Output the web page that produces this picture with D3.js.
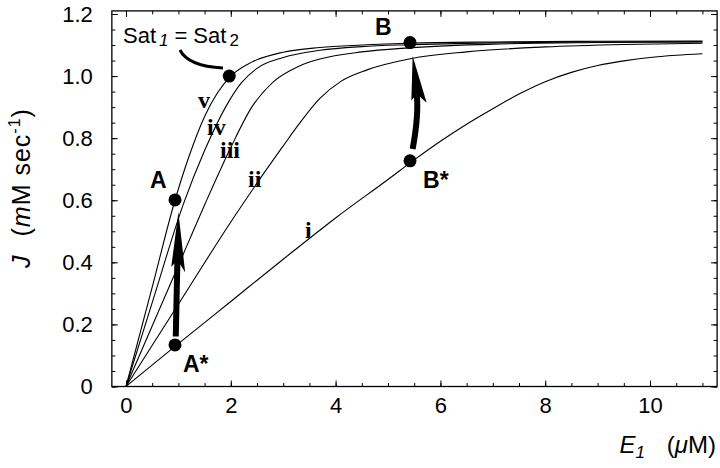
<!DOCTYPE html>
<html><head><meta charset="utf-8">
<script src="https://cdn.jsdelivr.net/npm/d3@7"></script>
<style>body{margin:0;background:#fff} svg{display:block}</style>
</head><body><svg id="c" width="720" height="468"></svg>
<script>
// ---- data (E1 in µM, J in mM/sec) ----
const curveI   = [[0,0],[1,0.138],[2,0.274],[3,0.41],[4,0.543],[5,0.667],[5.5,0.73],[6,0.79],[6.5,0.845],[7,0.895],[7.5,0.942],[8,0.982],[8.5,1.012],[9,1.034],[9.5,1.049],[10,1.06],[10.5,1.067],[11,1.072]];
const curveII  = [[0,0],[1,0.265],[2,0.53],[2.5,0.655],[3,0.775],[3.3,0.845],[3.7,0.928],[4.1,0.983],[4.6,1.02],[5.4,1.055],[6.5,1.078],[8,1.094],[9.5,1.102],[11,1.106]];
const curveIII = [[0,0],[1,0.39],[1.5,0.585],[2,0.77],[2.4,0.9],[2.8,0.98],[3.3,1.032],[3.7,1.055],[4.5,1.078],[5.4,1.091],[7,1.103],[9,1.108],[11,1.11]];
const curveIV  = [[0,0],[0.5,0.27],[1.1,0.59],[1.5,0.76],[1.9,0.9],[2.2,0.978],[2.5,1.025],[3,1.06],[3.7,1.083],[4.5,1.095],[5.4,1.101],[7,1.107],[9,1.11],[11,1.111]];
const curveV   = [[0,0],[0.5,0.32],[0.935,0.6],[1.2,0.74],[1.5,0.87],[1.75,0.947],[2,1.0],[2.4,1.045],[3,1.077],[3.7,1.092],[4.5,1.1],[5.4,1.106],[7,1.11],[9,1.112],[11,1.113]];
const curves = [curveI, curveII, curveIII, curveIV, curveV];
const curveNames = ["i","ii","iii","iv","v"];
const curveLabelAt = [[3.416,0.478],[2.328,0.642],[1.794,0.736],[1.546,0.810],[1.374,0.897]];

const pointNames = ["A","A*","B","B*","Sat"];
const pointValues = [[0.935,0.601],[0.935,0.134],[5.42,1.108],[5.42,0.727],[1.97,1.0]];
const pointLabelAt = [[0.458,0.640],[1.088,0.047],[4.752,1.132],[5.668,0.640]];

const arrowA = {start:[0.95,0.161], ctrl:[0.975,0.36], tip:[1.0,0.562]};
const arrowB = {start:[5.47,0.765], ctrl:[5.59,0.875], tip:[5.47,1.065]};
const leader = {start:[1.03,1.084], ctrl:[1.183,1.032], end:[1.85,1.026]};
const satLabelAt = [-0.057,1.107];

const xTicks = [0,2,4,6,8,10];
const yTicks = [0,0.2,0.4,0.6,0.8,1.0,1.2];

// ---- drawing ----
const svg = d3.select("#c");
const x = d3.scaleLinear().domain([-0.27,11.28]).range([111.85,717.1]);
const y = d3.scaleLinear().domain([0,1.21]).range([386.5,10.9]);
const L = 111.85, R = 717.1, T = 10.9, B = 386.5;

const xMinor = d3.range(0,11.01,0.5);
const yMinor = d3.range(0,1.201,0.05);

function tickGroup(axis, tr){
  const g = svg.append("g").attr("transform",tr).call(axis);
  g.select(".domain").remove();
  g.selectAll("line").attr("stroke","#000").attr("stroke-width",1);
  g.selectAll("text").attr("font-family","Liberation Sans, Arial, sans-serif").attr("font-size",22).attr("fill","#000");
  return g;
}
// minor ticks (inside)
tickGroup(d3.axisBottom(x).tickValues(xMinor).tickSize(-3.5).tickFormat(""), `translate(0,${B})`);
tickGroup(d3.axisTop(x).tickValues(xMinor).tickSize(-3.5).tickFormat(""), `translate(0,${T})`);
tickGroup(d3.axisLeft(y).tickValues(yMinor).tickSize(-3.5).tickFormat(""), `translate(${L},0)`);
tickGroup(d3.axisRight(y).tickValues(yMinor).tickSize(-3.5).tickFormat(""), `translate(${R},0)`);
// major ticks with labels
tickGroup(d3.axisBottom(x).tickValues(xTicks).tickSize(-6).tickPadding(11).tickFormat(d3.format("d")), `translate(0,${B})`);
tickGroup(d3.axisLeft(y).tickValues(yTicks).tickSize(-6).tickPadding(19).tickFormat(d=> d===0?"0":d3.format(".1f")(d)), `translate(${L},0)`);
tickGroup(d3.axisTop(x).tickValues(xTicks).tickSize(-6).tickFormat(""), `translate(0,${T})`);
tickGroup(d3.axisRight(y).tickValues(yTicks).tickSize(-6).tickFormat(""), `translate(${R},0)`);

// frame
svg.append("rect").attr("x",L).attr("y",T).attr("width",R-L).attr("height",B-T)
  .attr("fill","none").attr("stroke","#000").attr("stroke-width",1.3);

// curves
const line = d3.line().x(d=>x(d[0])).y(d=>y(d[1])).curve(d3.curveMonotoneX);
svg.append("g").selectAll("path").data(curves).join("path")
  .attr("d",line).attr("fill","none").attr("stroke","#000").attr("stroke-width",1.1);

// curve labels
svg.append("g").selectAll("text").data(curveNames).join("text")
  .attr("x",(d,i)=>x(curveLabelAt[i][0])).attr("y",(d,i)=>y(curveLabelAt[i][1]))
  .attr("font-family","Liberation Serif, Times New Roman, serif").attr("font-weight","bold")
  .attr("font-size",24).text(d=>d);

// leader line
svg.append("path")
  .attr("d",`M${x(leader.start[0])},${y(leader.start[1])}Q${x(leader.ctrl[0])},${y(leader.ctrl[1])} ${x(leader.end[0])},${y(leader.end[1])}`)
  .attr("fill","none").attr("stroke","#000").attr("stroke-width",3);

// arrows
function drawArrow(a, headLen, wL, wR, sw){
  const s=[x(a.start[0]),y(a.start[1])], c=[x(a.ctrl[0]),y(a.ctrl[1])], t=[x(a.tip[0]),y(a.tip[1])];
  let dx=t[0]-c[0], dy=t[1]-c[1]; const n=Math.hypot(dx,dy); dx/=n; dy/=n;
  const px=-dy, py=dx;
  const notch=[t[0]-dx*headLen*0.8, t[1]-dy*headLen*0.8];
  const rb=[t[0]-dx*headLen+px*wR, t[1]-dy*headLen+py*wR];
  const lb=[t[0]-dx*headLen*0.92-px*wL, t[1]-dy*headLen*0.92-py*wL];
  svg.append("path").attr("d",`M${s[0]},${s[1]}Q${c[0]},${c[1]} ${notch[0]},${notch[1]}`)
    .attr("fill","none").attr("stroke","#000").attr("stroke-width",sw);
  svg.append("path").attr("d",`M${t[0]},${t[1]}L${rb[0]},${rb[1]}L${notch[0]},${notch[1]}L${lb[0]},${lb[1]}Z`)
    .attr("fill","#000");
}
drawArrow(arrowA, 60, 6, 8, 6);
drawArrow(arrowB, 48, 6, 9, 6);

// points
svg.append("g").selectAll("circle").data(pointValues).join("circle")
  .attr("cx",d=>x(d[0])).attr("cy",d=>y(d[1])).attr("r",6.5).attr("fill","#000");

// point labels
svg.append("g").selectAll("text").data(pointNames.slice(0,4)).join("text")
  .attr("x",(d,i)=>x(pointLabelAt[i][0])).attr("y",(d,i)=>y(pointLabelAt[i][1]))
  .attr("font-family","Liberation Sans, Arial, sans-serif").attr("font-weight","bold")
  .attr("font-size",23).text(d=>d);

// Sat1 = Sat2 label
const sat = svg.append("text").attr("x",x(satLabelAt[0])).attr("y",y(satLabelAt[1]))
  .attr("font-family","Liberation Sans, Arial, sans-serif").attr("font-size",22);
sat.append("tspan").text("Sat");
sat.append("tspan").attr("font-style","italic").attr("font-size",17).attr("dx",3).attr("dy",3).text("1");
sat.append("tspan").attr("dy",-3).attr("dx",6).text("=");
sat.append("tspan").attr("dx",6).text("Sat");
sat.append("tspan").attr("font-size",17).attr("dx",3).attr("dy",3).text("2");

// x axis title
const xt = svg.append("text").attr("x",716).attr("y",453).attr("text-anchor","end")
  .attr("font-family","Liberation Sans, Arial, sans-serif").attr("font-size",24);
xt.append("tspan").attr("font-style","italic").text("E");
xt.append("tspan").attr("font-style","italic").attr("font-size",17).attr("dy",5).text("1");
xt.append("tspan").attr("dy",-5).attr("dx",22).text("(");
xt.append("tspan").attr("font-style","italic").text("\u03bc");
xt.append("tspan").text("M)");

// y axis title
const yt = svg.append("text").attr("transform","translate(30,268) rotate(-90)")
  .attr("font-family","Liberation Sans, Arial, sans-serif").attr("font-size",25).attr("letter-spacing",1);
yt.append("tspan").attr("font-style","italic").text("J");
yt.append("tspan").attr("dx",18).text("(");
yt.append("tspan").attr("font-style","italic").text("m");
yt.append("tspan").text("M sec");
yt.append("tspan").attr("font-size",16).attr("dy",-10).text("-1");
yt.append("tspan").attr("dy",10).text(")");
</script></body></html>
